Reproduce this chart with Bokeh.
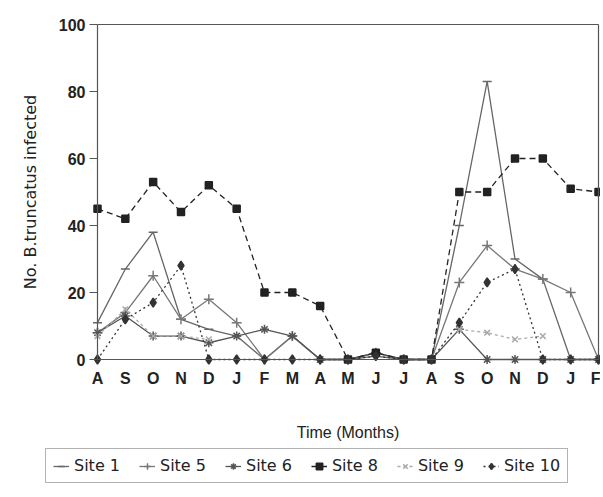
import math
from bokeh.plotting import figure
from bokeh.models import Range1d, FixedTicker, Legend, LegendItem, LinearAxis
from bokeh.embed import file_html
from bokeh.resources import INLINE

nan = float("nan")
months = ["A", "S", "O", "N", "D", "J", "F", "M", "A", "M", "J", "J",
          "A", "S", "O", "N", "D", "J", "F"]
site1 = [11, 27, 38, 12, 9, 7, 0, 7, 0, 0, 1, 0, 0, 40, 83, 30, 24, 0, 0]
site5 = [8, 14, 25, 12, 18, 11, 0, 7, 0, 0, 2, 0, 0, 23, 34, 27, 24, 20, 0]
site6 = [8, 13, 7, 7, 5, 7, 9, 7, 0, 0, 2, 0, 0, 9, 0, 0, 0, 0, 0]
site8 = [45, 42, 53, 44, 52, 45, 20, 20, 16, 0, 2, 0, 0, 50, 50, 60, 60, 51, 50]
site9 = [7, 15, 7, 7, 6, nan, nan, nan, nan, nan, nan, nan, nan, 9, 8, 6, 7, nan, nan]
site10 = [0, 12, 17, 28, 0, 0, 0, 0, 0, 0, 1, 0, 0, 11, 23, 27, 0, 0, 0]
y_ticks = [0, 20, 40, 60, 80, 100]

xs = list(range(len(months)))
x_lo, x_hi = 0, len(months) - 1
y_lo, y_hi = 0, 100

# canvas layout (pixels): plot box placed inside a full-canvas frame so that
# the legend can sit below it, wider than the box
W, H = 600, 490
box_left, box_right, box_top, box_bottom = 97, 598, 24, 359
px_x = (box_right - box_left) / (x_hi - x_lo)
px_y = (box_bottom - box_top) / (y_hi - y_lo)
xr = Range1d(x_lo - box_left / px_x, x_hi + (W - box_right) / px_x)
yr = Range1d(y_lo - (H - box_bottom) / px_y, y_hi + box_top / px_y)

FONT = "Liberation Sans"
p = figure(width=W, height=H, output_backend="svg", toolbar_location=None,
           x_range=xr, y_range=yr, x_axis_type=None, y_axis_type=None,
           min_border_left=0, min_border_right=0, min_border_top=0,
           min_border_bottom=0)
p.background_fill_color = "white"
p.border_fill_color = "white"
p.outline_line_color = None
p.xgrid.visible = False
p.ygrid.visible = False

series = [
    ("Site 1", site1, "#666666", "solid", "dash", 9),
    ("Site 5", site5, "#777777", "solid", "cross", 10),
    ("Site 6", site6, "#555555", "solid", "asterisk", 9),
    ("Site 8", site8, "#222222", "6 4", "square", 7),
    ("Site 9", site9, "#aaaaaa", "3 3", "x", 8),
    ("Site 10", site10, "#333333", "2 3", "diamond", 9),
]
items = []
for name, ys, col, dash, marker, size in series:
    r1 = p.line(xs, ys, line_color=col, line_width=1.3, line_dash=dash)
    r2 = p.scatter(xs, ys, marker=marker, size=size, line_color=col,
                   fill_color=col, line_width=1.5)
    items.append(LegendItem(label=name, renderers=[r1, r2]))

# x axis at y=0
xaxis = LinearAxis(fixed_location=y_lo, bounds=(x_lo, x_hi))
xaxis.ticker = FixedTicker(ticks=xs)
xaxis.major_label_overrides = {i: m for i, m in enumerate(months)}
xaxis.major_label_text_font = FONT
xaxis.major_label_text_font_style = "bold"
xaxis.major_label_text_font_size = "16px"
xaxis.major_label_text_color = "#222222"
xaxis.major_tick_out = 0
xaxis.major_tick_in = 0
xaxis.major_label_standoff = 10
xaxis.minor_tick_line_color = None
xaxis.axis_line_color = "#555555"
xaxis.axis_line_width = 1.2
xaxis.axis_label = "Time (Months)"
xaxis.axis_label_text_font = FONT
xaxis.axis_label_text_font_style = "normal"
xaxis.axis_label_text_font_size = "16px"
xaxis.axis_label_text_color = "#222222"
xaxis.axis_label_standoff = 34
p.add_layout(xaxis, "below")

# y axis at x=0
yaxis = LinearAxis(fixed_location=x_lo, bounds=(y_lo, y_hi))
yaxis.ticker = FixedTicker(ticks=y_ticks)
yaxis.major_label_text_font = FONT
yaxis.major_label_text_font_style = "bold"
yaxis.major_label_text_font_size = "16px"
yaxis.major_label_text_color = "#222222"
yaxis.major_tick_out = 8
yaxis.major_tick_in = 0
yaxis.major_tick_line_color = "#555555"
yaxis.major_label_standoff = 4
yaxis.minor_tick_line_color = None
yaxis.axis_line_color = "#555555"
yaxis.axis_line_width = 1.2
yaxis.axis_label = "No. B.truncatus infected"
yaxis.axis_label_text_font = "DejaVu Sans"
yaxis.axis_label_text_font_style = "normal"
yaxis.axis_label_text_font_size = "16px"
yaxis.axis_label_text_color = "#222222"
yaxis.axis_label_standoff = 16
p.add_layout(yaxis, "left")

# box borders (top and right)
top_axis = LinearAxis(fixed_location=y_hi, bounds=(x_lo, x_hi))
right_axis = LinearAxis(fixed_location=x_hi, bounds=(y_lo, y_hi))
for ax in (top_axis, right_axis):
    ax.ticker = FixedTicker(ticks=[])
    ax.major_label_text_font_size = "0px"
    ax.major_tick_line_color = None
    ax.minor_tick_line_color = None
    ax.axis_line_color = "#555555"
    ax.axis_line_width = 1.2
p.add_layout(top_axis, "above")
p.add_layout(right_axis, "right")

legend = Legend(items=items, orientation="horizontal", location=(45, 7))
legend.label_text_font = "DejaVu Sans"
legend.label_text_font_size = "16px"
legend.label_text_color = "#222222"
legend.glyph_width = 16
legend.glyph_height = 16
legend.label_standoff = 5
legend.spacing = 19
legend.padding = 7
legend.margin = 0
legend.border_line_color = "#666666"
legend.border_line_width = 1.2
p.add_layout(legend, "center")

open("out.html", "w").write(file_html(p, INLINE))
